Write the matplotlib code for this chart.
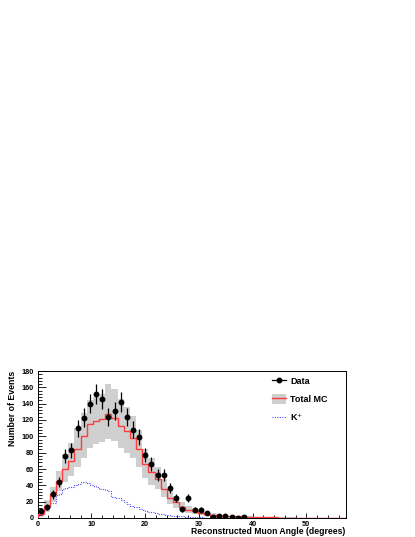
import numpy as np
import matplotlib
matplotlib.use('Agg')
import matplotlib.pyplot as plt
from matplotlib.patches import Patch
from matplotlib.lines import Line2D

plt.rcParams['font.family'] = ['Liberation Sans', 'DejaVu Sans']

# ---- data ----
x_range = (0.0, 57.2958)
n_bins = 50
n_bins_k = 100

data_counts = [9, 13, 29, 44, 76, 83, 110, 123, 140, 152,
               146, 124, 131, 142, 124, 108, 99, 77, 66, 53,
               53, 37, 24, 11, 25, 10, 10, 6, 1, 2,
               2, 1, 0, 1]

mc_total = [5, 15, 29, 45, 60, 70, 85, 100, 115, 119,
            121, 127, 122, 113, 106, 98, 85, 66, 56, 48,
            36, 25, 19, 13, 10, 8, 6, 5, 4, 3,
            2.5, 2, 2, 1.5, 1.5, 1, 1, 1, 0.8, 0.6,
            0.5, 0.4, 0.3, 0.3, 0.2, 0.2, 0.1, 0.1, 0.1, 0.1]

mc_hi = [10, 22, 38, 58, 78, 92, 110, 128, 144, 148,
         152, 164, 158, 146, 136, 125, 108, 85, 73, 63,
         48, 35, 27, 19, 15, 12, 9, 7, 6, 4.5,
         3.5, 3, 3, 2.5, 2, 1.5, 1.5, 1.5, 1.2, 1,
         0.8, 0.7, 0.5, 0.5, 0.4, 0.3, 0.2, 0.2, 0.2, 0.2]

mc_lo = [1, 7, 20, 33, 44, 52, 62, 74, 86, 91,
         93, 97, 94, 86, 80, 73, 63, 49, 41, 35,
         26, 17, 12, 8, 6, 5, 3.5, 3, 2.5, 1.8,
         1.5, 1.2, 1.2, 0.9, 0.9, 0.6, 0.6, 0.6, 0.5, 0.3,
         0.3, 0.2, 0.1, 0.1, 0.1, 0.1, 0.05, 0.05, 0.05, 0.05]

kplus = [4, 6, 10, 14, 18, 18, 28, 30, 35, 37,
         38, 38, 40, 42, 44, 44, 43, 41, 39, 38,
         36, 36, 34, 33, 26, 25, 24, 22, 20, 17,
         15, 14, 13, 11, 10, 8, 7, 7, 6, 5,
         5, 4, 4, 3, 3, 2.5, 2, 2, 1.5, 1.5,
         1, 1, 1, 0.8, 0.6, 0.5, 0.4, 0.3, 0.3, 0.2,
         0.2, 0.1, 0.1, 0.1, 0.1, 0, 0, 0, 0, 0,
         0, 0, 0, 0, 0, 0, 0, 0, 0, 0,
         0, 0, 0, 0, 0, 0, 0, 0, 0, 0,
         0, 0, 0, 0, 0, 0, 0, 0, 0, 0]

y_ticks = [0, 20, 40, 60, 80, 100, 120, 140, 160, 180]
x_ticks = [0, 10, 20, 30, 40, 50]

# ---- figure ----
fig = plt.figure(figsize=(4.15, 5.37), dpi=100)
ax = fig.add_axes([37.5/415, 19/537, 308/415, 147/537])

edges = np.linspace(x_range[0], x_range[1], n_bins + 1)
centers = 0.5 * (edges[:-1] + edges[1:])
binw = edges[1] - edges[0]
edges_k = np.linspace(x_range[0], x_range[1], n_bins_k + 1)

hi = np.array(mc_hi); lo = np.array(mc_lo)
ax.bar(centers, hi - lo, bottom=lo, width=binw, color='#cfcfcf',
       linewidth=0, zorder=1)
ax.stairs(mc_total, edges, color='#ff3b3b', lw=1.0, zorder=3)
ax.stairs(kplus, edges_k, color='#4b4bff', lw=0.8, linestyle=(0, (1, 1.2)),
          zorder=2)

d = np.array(data_counts, dtype=float)
ax.errorbar(centers[:len(d)], d, yerr=np.sqrt(d), xerr=0.35,
            fmt='o', color='black', ms=3.2, elinewidth=0.9, capsize=0,
            zorder=4)

ax.set_xlim(*x_range)
ax.set_ylim(0, 180)
ax.set_yticks(y_ticks)
ax.set_xticks(x_ticks)
ax.set_yticks(np.arange(0, 181, 4), minor=True)
ax.set_xticks(np.arange(0, 57.3, 2), minor=True)
ax.tick_params(axis='y', which='major', direction='in', length=5.5, width=0.6,
               labelsize=5.2, pad=2.5)
ax.tick_params(axis='y', which='minor', direction='in', length=2.8, width=0.6)
ax.tick_params(axis='x', which='major', direction='in', length=3.5, width=0.6,
               labelsize=5.2, pad=2)
ax.tick_params(axis='x', which='minor', direction='in', length=2, width=0.6)
for lab in ax.get_xticklabels() + ax.get_yticklabels():
    lab.set_fontweight('bold')
for s in ax.spines.values():
    s.set_linewidth(0.7)

ax.set_ylabel('Number of Events', fontsize=6.3, fontweight='bold')
ax.yaxis.set_label_coords(-0.068, 1.0)
ax.yaxis.label.set_horizontalalignment('right')
ax.set_xlabel('Reconstructed Muon Angle (degrees)', fontsize=6.2,
              fontweight='bold')
ax.xaxis.set_label_coords(1.0, -0.06)
ax.xaxis.label.set_horizontalalignment('right')
ax.xaxis.label.set_verticalalignment('top')

h_data = Line2D([], [], color='black', marker='o', ms=3.2, lw=0.9)
h_mc = (Patch(facecolor='#cfcfcf', edgecolor='none'),
        Line2D([], [], color='#ff3b3b', lw=1.0))
h_k = Line2D([], [], color='#4b4bff', lw=0.8, linestyle=(0, (1, 1.2)))
ax.legend([h_data, h_mc, h_k], ['Data', 'Total MC', 'K$^{+}$'],
          loc='upper left', bbox_to_anchor=(0.735, 1.02), frameon=False,
          prop={'size': 6.5, 'weight': 'bold'}, handlelength=1.5,
          handleheight=1.3, labelspacing=0.85, handletextpad=0.5)

fig.savefig('out.png', dpi=100)
